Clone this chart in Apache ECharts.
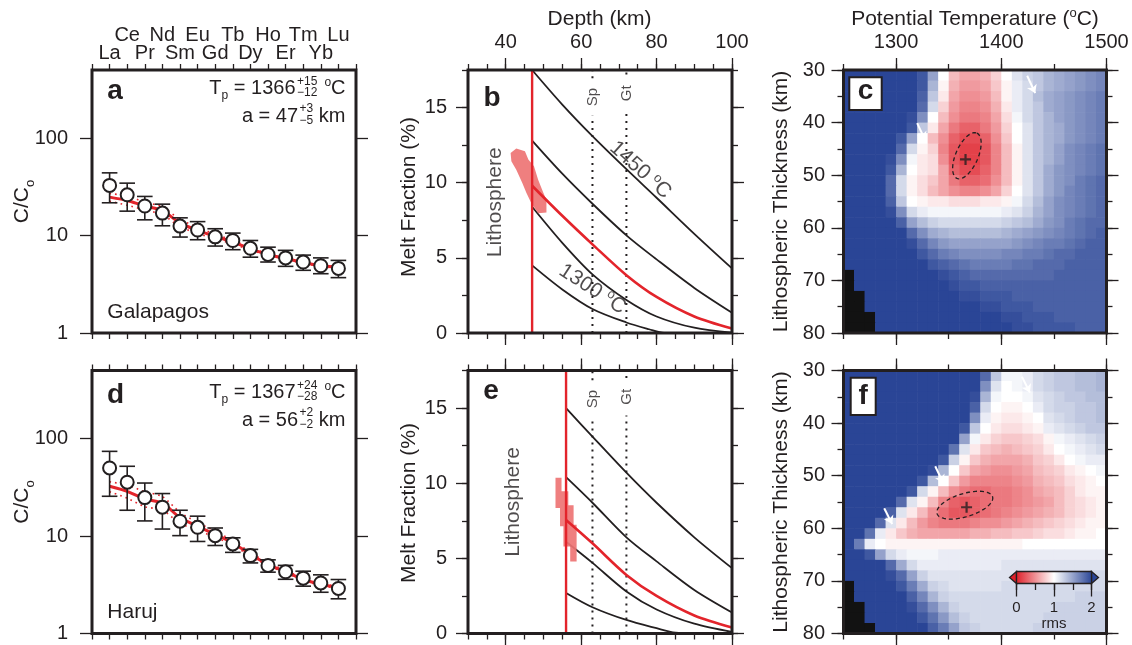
<!DOCTYPE html>
<html>
<head>
<meta charset="utf-8">
<script src="https://cdn.jsdelivr.net/npm/echarts@6/dist/echarts.min.js"></script>
<style>
html,body{margin:0;padding:0;background:#fff;}
#chart{width:1132px;height:645px;}
</style>
</head>
<body>
<div id="chart"></div>
<script>
// ================= DATA =================
const REE = ['La','Ce','Pr','Nd','Sm','Eu','Gd','Tb','Dy','Ho','Er','Tm','Yb','Lu'];

// Panel a: Galapagos (C/Co)
const galObs  = [32.7, 26.2, 20.1, 17.0, 12.5, 11.4, 9.7, 8.9, 7.4, 6.4, 5.9, 5.35, 4.9, 4.6];
const galHigh = [44, 34.5, 25.2, 21.0, 15.2, 13.9, 11.75, 10.6, 8.9, 7.6, 7.05, 6.3, 5.9, 5.56];
const galLow  = [21.7, 17.8, 14.5, 12.6, 9.65, 9.06, 7.8, 7.16, 6.0, 5.35, 4.83, 4.4, 4.06, 3.7];
const galFit  = [24.8, 22.9, 20.1, 18.1, 13.4, 11.3, 9.8, 8.6, 7.3, 6.4, 5.8, 5.3, 4.9, 4.75];
const galFitUp = [27, 25.5, 22, 19.8, 14.6, 12.2, 10.3, 9.0, 7.5, 6.5, 5.9, 5.4, 5.0, 4.85];
const galFitLo = [22.5, 20.5, 18.3, 16.5, 12.3, 10.5, 9.3, 8.2, 7.1, 6.3, 5.7, 5.2, 4.8, 4.65];

// Panel d: Haruj (C/Co)
const harObs  = [50, 35.7, 24.8, 19.8, 14.2, 12.3, 10.1, 8.3, 6.3, 5.0, 4.3, 3.7, 3.3, 2.9];
const harHigh = [74, 52, 35, 27.3, 18.4, 16, 12.1, 9.6, 7.3, 5.7, 5.0, 4.36, 4.0, 3.58];
const harLow  = [25.6, 18.4, 14.3, 11.8, 10.1, 8.8, 8.0, 6.8, 5.3, 4.26, 3.6, 3.06, 2.65, 2.27];
const harFit  = [32.4, 28.8, 24, 21.9, 15.4, 12.6, 10.4, 8.5, 6.5, 5.1, 4.3, 3.6, 3.2, 2.94];
const harFitUp = [36, 33.5, 28.5, 25.5, 17.5, 13.8, 11.2, 9.0, 6.8, 5.3, 4.45, 3.7, 3.3, 3.0];
const harFitLo = [28.5, 24.5, 20, 18.5, 13.5, 11.5, 9.7, 8.1, 6.2, 4.95, 4.2, 3.5, 3.1, 2.9];
const logTicks = [1, 10, 100];

// Panel b: melt fraction (%) vs depth (km)
const meltB1450 = [[47,17.5],[55,15.2],[63,13.1],[72,10.9],[80,9.0],[90,6.6],[100,4.3]];
const meltB2    = [[47,12.8],[55,10.6],[63,8.6],[72,6.5],[80,4.9],[90,3.0],[100,1.35]];
const meltBFit  = [[47,9.8],[55,7.8],[63,5.9],[72,3.85],[80,2.4],[90,1.1],[100,0.3]];
const meltB4    = [[47,8.4],[55,6.0],[63,3.9],[72,2.2],[80,1.1],[90,0.35],[100,0.02]];
const meltB1300 = [[47,4.5],[55,2.9],[63,1.6],[72,0.7],[78,0.25],[82,0],[100,0]];
const lithB = 47;
const blobB = [[41.3,11.98],[42.8,12.27],[45.1,12.09],[46.0,11.54],[47.5,11.09],[48.6,10.2],[50.0,9.31],[50.8,8.86],
               [50.8,8.02],[48.6,7.97],[46.8,8.64],[45.5,9.31],[44.4,9.98],[42.8,10.87],[41.5,11.43]];

// Panel e
const meltE1   = [[56,15.0],[63,13.1],[72,10.7],[80,8.7],[90,6.4],[100,4.35]];
const meltE2   = [[56,10.4],[63,8.7],[72,6.4],[80,4.8],[90,2.9],[100,1.4]];
const meltEFit = [[56,7.55],[63,6.0],[72,3.9],[80,2.5],[90,1.2],[100,0.4]];
const meltE4   = [[56,6.1],[63,4.7],[72,2.8],[80,1.6],[90,0.65],[100,0.1]];
const meltE5   = [[56,2.7],[63,1.75],[72,0.9],[80,0.35],[85,0.05],[90,0],[100,0]];
const lithE = 56;
const blobE = [[53.2,10.36],[54.8,10.36],[54.8,9.47],[56.6,9.47],[56.6,8.53],[58.0,8.53],[58.0,7.24],[58.8,7.24],
               [58.8,4.79],[57.1,4.79],[57.1,5.79],[55.3,5.79],[55.3,7.13],[54.4,7.13],[54.4,8.35],[53.2,8.35]];
const spinelDepth = 63, garnetDepth = 72;

// Panels c, f: rms misfit grids (rows = thickness, cols = potential temperature); -1 = no solution
const tempCenters  = [1255,1265,1275,1285,1295,1305,1315,1325,1335,1345,1355,1365,1375,1385,1395,1405,1415,1425,1435,1445,1455,1465,1475,1485,1495];
const thickCenters = [31,33,35,37,39,41,43,45,47,49,51,53,55,57,59,61,63,65,67,69,71,73,75,77,79];
const rmsGalapagos = [
[2,2,2,2,2,2,2,1.9,1.5,1.0,0.7,0.6,0.6,0.65,0.8,1.0,1.15,1.25,1.3,1.4,1.45,1.5,1.55,1.6,1.65],
[2,2,2,2,2,2,2,1.9,1.4,0.95,0.65,0.55,0.55,0.6,0.75,0.95,1.1,1.2,1.3,1.4,1.45,1.5,1.55,1.6,1.65],
[2,2,2,2,2,2,2,1.85,1.3,0.9,0.6,0.5,0.5,0.55,0.7,0.95,1.1,1.2,1.35,1.45,1.5,1.55,1.6,1.65,1.7],
[2,2,2,2,2,2,2,1.8,1.2,0.8,0.55,0.45,0.45,0.5,0.65,0.9,1.1,1.2,1.3,1.45,1.5,1.55,1.6,1.65,1.7],
[2,2,2,2,2,2,1.95,1.6,1.0,0.7,0.5,0.4,0.4,0.45,0.6,0.85,1.05,1.2,1.3,1.4,1.5,1.55,1.6,1.65,1.7],
[2,2,2,2,2,2,1.9,1.3,0.9,0.6,0.4,0.3,0.3,0.4,0.55,0.8,1.0,1.15,1.3,1.4,1.45,1.55,1.6,1.65,1.7],
[2,2,2,2,2,1.9,1.5,1.0,0.7,0.5,0.3,0.2,0.2,0.3,0.5,0.75,1.0,1.15,1.3,1.4,1.45,1.55,1.6,1.65,1.7],
[2,2,2,2,2,1.8,1.2,0.95,0.8,0.45,0.25,0.15,0.15,0.25,0.45,0.7,0.95,1.15,1.3,1.4,1.5,1.6,1.65,1.7,1.75],
[2,2,2,2,1.95,1.6,1.05,0.9,0.85,0.5,0.25,0.15,0.15,0.25,0.45,0.7,0.95,1.15,1.3,1.4,1.5,1.6,1.65,1.7,1.75],
[2,2,2,2,1.9,1.4,1.0,0.9,0.85,0.6,0.3,0.2,0.2,0.3,0.45,0.7,0.95,1.15,1.3,1.45,1.55,1.6,1.65,1.7,1.75],
[2,2,2,2,1.8,1.2,0.95,0.85,0.75,0.6,0.4,0.3,0.3,0.35,0.5,0.7,0.95,1.15,1.3,1.45,1.55,1.6,1.7,1.75,1.8],
[2,2,2,2,1.8,1.2,0.95,0.85,0.7,0.6,0.5,0.45,0.45,0.5,0.6,0.8,1.0,1.15,1.3,1.45,1.55,1.65,1.7,1.75,1.8],
[2,2,2,2,1.85,1.3,1.0,0.95,0.9,0.9,0.85,0.85,0.85,0.9,0.9,0.95,1.05,1.2,1.35,1.5,1.6,1.65,1.7,1.75,1.8],
[2,2,2,2,1.95,1.6,1.2,1.1,1.05,1.05,1.05,1.05,1.05,1.05,1.05,1.1,1.15,1.25,1.4,1.5,1.6,1.65,1.7,1.75,1.8],
[2,2,2,2,2,1.85,1.5,1.35,1.25,1.2,1.2,1.2,1.2,1.2,1.2,1.25,1.3,1.35,1.45,1.55,1.6,1.7,1.75,1.8,1.8],
[2,2,2,2,2,2,1.8,1.6,1.45,1.4,1.35,1.35,1.35,1.35,1.35,1.4,1.45,1.5,1.55,1.6,1.65,1.7,1.75,1.8,1.85],
[2,2,2,2,2,2,1.95,1.8,1.65,1.55,1.5,1.5,1.5,1.5,1.5,1.5,1.55,1.6,1.65,1.7,1.7,1.75,1.8,1.85,1.85],
[2,2,2,2,2,2,2,1.9,1.8,1.7,1.65,1.6,1.6,1.6,1.6,1.65,1.65,1.7,1.7,1.75,1.8,1.8,1.85,1.85,1.85],
[2,2,2,2,2,2,2,2,1.9,1.85,1.8,1.75,1.7,1.7,1.7,1.7,1.75,1.75,1.8,1.8,1.8,1.85,1.85,1.85,1.85],
[-1,2,2,2,2,2,2,2,2,1.95,1.9,1.85,1.8,1.8,1.8,1.8,1.8,1.8,1.8,1.8,1.85,1.85,1.85,1.85,1.85],
[-1,2,2,2,2,2,2,2,2,2,1.95,1.9,1.9,1.85,1.85,1.85,1.85,1.85,1.85,1.85,1.85,1.85,1.85,1.85,1.85],
[-1,-1,2,2,2,2,2,2,2,2,2,1.95,1.95,1.9,1.9,1.9,1.85,1.85,1.85,1.85,1.85,1.85,1.85,1.85,1.85],
[-1,-1,2,2,2,2,2,2,2,2,2,2,2,1.95,1.95,1.9,1.9,1.9,1.85,1.85,1.85,1.85,1.85,1.85,1.85],
[-1,-1,-1,2,2,2,2,2,2,2,2,2,2,2,2,1.95,1.95,1.9,1.9,1.9,1.85,1.85,1.85,1.85,1.85],
[-1,-1,-1,2,2,2,2,2,2,2,2,2,2,2,2,2,1.95,1.95,1.9,1.9,1.9,1.9,1.85,1.85,1.85]
];
const rmsHaruj = [
[2,2,2,2,2,2,2,2,2,2,2,2,2,1.8,1.3,1.05,1.05,1.1,1.2,1.25,1.3,1.3,1.35,1.35,1.4],
[2,2,2,2,2,2,2,2,2,2,2,2,2,1.6,1.15,1.0,1.05,1.1,1.2,1.25,1.3,1.3,1.35,1.35,1.4],
[2,2,2,2,2,2,2,2,2,2,2,2,1.95,1.4,1.05,1.0,1.0,1.05,1.15,1.2,1.25,1.3,1.3,1.35,1.35],
[2,2,2,2,2,2,2,2,2,2,2,2,1.85,1.2,1.0,0.95,0.95,1.0,1.1,1.2,1.25,1.25,1.3,1.3,1.35],
[2,2,2,2,2,2,2,2,2,2,2,2,1.6,1.1,0.95,0.9,0.9,0.95,1.0,1.15,1.2,1.25,1.3,1.3,1.35],
[2,2,2,2,2,2,2,2,2,2,2,1.9,1.3,1.0,0.9,0.85,0.85,0.9,0.95,1.1,1.15,1.2,1.25,1.3,1.3],
[2,2,2,2,2,2,2,2,2,2,2,1.5,1.05,0.9,0.8,0.75,0.75,0.8,0.85,0.95,1.05,1.1,1.15,1.2,1.25],
[2,2,2,2,2,2,2,2,2,2,1.75,1.15,0.9,0.75,0.7,0.65,0.7,0.75,0.8,0.9,1.0,1.05,1.1,1.15,1.2],
[2,2,2,2,2,2,2,2,2,1.9,1.25,0.95,0.75,0.65,0.6,0.6,0.6,0.65,0.75,0.8,0.9,1.0,1.05,1.1,1.1],
[2,2,2,2,2,2,2,2,1.95,1.4,1.0,0.75,0.6,0.55,0.5,0.5,0.55,0.6,0.7,0.75,0.8,0.9,0.95,1.0,1.05],
[2,2,2,2,2,2,2,1.9,1.35,1.0,0.75,0.55,0.45,0.45,0.45,0.45,0.5,0.55,0.65,0.7,0.75,0.85,0.9,0.95,1.0],
[2,2,2,2,2,2,1.9,1.2,0.95,0.7,0.5,0.4,0.35,0.35,0.4,0.4,0.45,0.5,0.6,0.65,0.7,0.8,0.9,0.95,0.95],
[2,2,2,2,2,1.8,1.15,0.95,0.7,0.45,0.3,0.25,0.3,0.35,0.4,0.4,0.45,0.5,0.55,0.6,0.7,0.8,0.85,0.9,0.95],
[2,2,2,2,1.85,1.15,0.9,0.7,0.5,0.35,0.25,0.25,0.3,0.35,0.4,0.45,0.5,0.55,0.6,0.65,0.7,0.8,0.85,0.9,0.95],
[2,2,2,1.8,1.15,0.9,0.7,0.55,0.45,0.4,0.4,0.4,0.45,0.5,0.5,0.55,0.6,0.65,0.7,0.75,0.8,0.85,0.9,0.95,0.95],
[2,2,1.75,1.1,0.9,0.75,0.65,0.6,0.6,0.6,0.6,0.6,0.65,0.65,0.7,0.7,0.75,0.75,0.8,0.85,0.85,0.9,0.95,0.95,1.0],
[2,1.7,1.1,1.0,0.95,0.95,0.95,0.95,0.95,0.95,0.95,0.95,0.95,0.95,0.95,0.95,0.95,1.0,1.0,1.0,1.0,1.0,1.0,1.0,1.0],
[2,2,1.9,1.5,1.2,1.1,1.05,1.05,1.05,1.1,1.1,1.1,1.1,1.1,1.1,1.1,1.1,1.1,1.1,1.1,1.1,1.1,1.1,1.1,1.1],
[2,2,2,2,1.8,1.45,1.2,1.1,1.1,1.1,1.1,1.1,1.1,1.1,1.1,1.15,1.15,1.15,1.15,1.15,1.15,1.15,1.15,1.15,1.15],
[2,2,2,2,1.95,1.8,1.5,1.25,1.15,1.15,1.15,1.15,1.15,1.15,1.15,1.15,1.15,1.15,1.2,1.2,1.2,1.2,1.2,1.2,1.2],
[-1,2,2,2,2,1.9,1.7,1.45,1.25,1.2,1.15,1.15,1.15,1.15,1.15,1.2,1.2,1.2,1.2,1.2,1.2,1.2,1.2,1.2,1.2],
[-1,2,2,2,2,2,1.85,1.65,1.4,1.25,1.2,1.2,1.2,1.2,1.2,1.2,1.2,1.2,1.2,1.2,1.2,1.2,1.25,1.25,1.25],
[-1,-1,2,2,2,2,1.95,1.8,1.6,1.4,1.25,1.2,1.2,1.2,1.2,1.2,1.2,1.2,1.2,1.2,1.25,1.25,1.25,1.25,1.25],
[-1,-1,2,2,2,2,2,1.9,1.75,1.55,1.35,1.25,1.2,1.2,1.2,1.2,1.2,1.2,1.2,1.25,1.25,1.25,1.25,1.25,1.25],
[-1,-1,-1,2,2,2,2,2,1.85,1.7,1.5,1.3,1.25,1.2,1.2,1.2,1.2,1.2,1.25,1.25,1.25,1.25,1.25,1.25,1.25]
];
const bestC = [1366, 47], bestF = [1367, 56];
const ellipseC = {center: [1367.3, 46.3], tip: [1376.8, 42.0], ratio: 0.45};
const ellipseF = {center: [1365.3, 55.6], tip: [1391.7, 54.0], ratio: 0.4};
const arrowsC = [[[1320, 40.1], [1327.6, 43.3]], [[1424.6, 31.1], [1432.2, 34.4]]];
const arrowsF = [[[1419.6, 31.2], [1427.2, 34.2]], [[1337.2, 48.2], [1344.8, 51.4]], [[1288.7, 56.2], [1296.3, 59.2]]];
const rmsTicksMajor = [0, 1, 2], rmsTicksMinor = 0.5;

// ================= STYLE =================
const FONT = '"Liberation Sans", Arial, Helvetica, sans-serif';
const INK = '#231f20';
const RED = '#e3242b';
const RMS_RED = '#de1f29';
const RMS_BLUE = '#2a4596';
const BLOB = '#ee7474';
const plainNum = v => String(v);

const GR = [
  {left: 92,    top: 70,    width: 264, height: 263},
  {left: 468,   top: 70,    width: 264, height: 263},
  {left: 843.5, top: 70,    width: 263, height: 263},
  {left: 92,    top: 370.5, width: 264, height: 263},
  {left: 468,   top: 370.5, width: 264, height: 263},
  {left: 843.5, top: 370.5, width: 263, height: 263},
  {left: 1016.5, top: 571.5, width: 75, height: 12}
];

const tickStyle = {color: INK, width: 1.3};
const labelStyle = {color: INK, fontFamily: FONT, fontSize: 20};
const xAxes = [], yAxes = [];

function sideAxes(list, gi, side, s, withLabels) {
  const idx = list.length;
  const common = {gridIndex: gi, position: side, type: s.type || 'value', min: s.min, max: s.max,
    inverse: !!s.inverse, axisLine: {show: false, onZero: false}, splitLine: {show: false}, z: 5};
  if (s.type === 'log') common.logBase = 10;
  const a1 = Object.assign({}, common, {
    axisTick: {show: true, inside: false, length: s.minorLen || 6, lineStyle: tickStyle},
    axisLabel: (withLabels && s.labelOnMinor) ? Object.assign({show: true, formatter: plainNum}, labelStyle, s.labelOpts) : {show: false}
  });
  if (s.minor != null) a1.interval = s.minor;
  if (s.minorValues) { a1.axisTick.customValues = s.minorValues; if (a1.axisLabel.show) a1.axisLabel.customValues = s.minorValues; }
  list.push(a1);
  if (s.majors) {
    list.push(Object.assign({}, common, {
      axisTick: {show: true, inside: false, length: 12, customValues: s.majors, lineStyle: tickStyle},
      axisLabel: (withLabels && !s.labelOnMinor) ? Object.assign({show: true, customValues: s.majors, formatter: plainNum}, labelStyle, s.labelOpts) : {show: false}
    }));
  }
  return idx;
}
const P = {};
function panelAxes(key, gi, X, Y, topLabels) {
  const xi = sideAxes(xAxes, gi, 'top', X, topLabels);
  sideAxes(xAxes, gi, 'bottom', X, false);
  const yi = sideAxes(yAxes, gi, 'left', Y, true);
  sideAxes(yAxes, gi, 'right', Y, false);
  P[key] = {x: xi, y: yi};
}

const reeXTop = {min: 0, max: 15, minor: 1, labelOnMinor: true, labelOpts: {margin: 8, lineHeight: 18,
  formatter: function (v) { const i = Math.round(v); if (i < 1 || i > REE.length) return ''; return i % 2 === 1 ? '\n' + REE[i - 1] : REE[i - 1] + '\n'; }}};
const reeX = {min: 0, max: 15, minor: 1};
const reeY = {type: 'log', min: 1, max: 500, minorLen: 12, minorValues: logTicks, labelOnMinor: true, labelOpts: {margin: 24}};
const depX = {min: 30, max: 100, minor: 5, majors: [40, 60, 80, 100], labelOpts: {margin: 17.5}};
const meltY = {min: 0, max: 17.5, minor: 2.5, majors: [0, 5, 10, 15], labelOpts: {margin: 21}};
const tempX = {min: 1250, max: 1500, minor: 50, majors: [1300, 1400, 1500], labelOpts: {margin: 17.5}};
const thickY = {min: 30, max: 80, minor: 5, majors: [30, 40, 50, 60, 70, 80], inverse: true, labelOpts: {margin: 18.5}};

panelAxes('a', 0, reeXTop, reeY, true);
panelAxes('b', 1, depX, meltY, true);
panelAxes('c', 2, tempX, thickY, true);
panelAxes('d', 3, reeX, reeY, false);
panelAxes('e', 4, depX, meltY, false);
panelAxes('f', 5, tempX, thickY, false);

// colorbar axes (grid 6)
const cbXi = xAxes.length;
xAxes.push({gridIndex: 6, position: 'bottom', type: 'value', min: 0, max: 2, interval: rmsTicksMinor, z: 60,
  axisLine: {show: false, onZero: false}, splitLine: {show: false}, axisLabel: {show: false},
  axisTick: {show: true, length: 6.5, lineStyle: tickStyle}});
xAxes.push({gridIndex: 6, position: 'bottom', type: 'value', min: 0, max: 2, z: 60,
  axisLine: {show: false, onZero: false}, splitLine: {show: false},
  axisTick: {show: true, length: 13, customValues: rmsTicksMajor, lineStyle: tickStyle},
  axisLabel: {show: true, customValues: rmsTicksMajor, formatter: plainNum, color: INK, fontFamily: FONT, fontSize: 15, margin: 17},
  name: 'rms', nameLocation: 'middle', nameGap: 30.5, nameTextStyle: {color: INK, fontFamily: FONT, fontSize: 15}});
const cbYi = yAxes.length;
yAxes.push({gridIndex: 6, type: 'value', min: 0, max: 1, show: false});

// ================= SERIES =================
const series = [];
function add(s) { s.silent = true; series.push(s); return series.length - 1; }

function errRender(params, api) {
  const x = api.value(0);
  const p1 = api.coord([x, api.value(1)]), p2 = api.coord([x, api.value(2)]);
  const w = 7.8, st = {stroke: INK, lineWidth: 1.6};
  return {type: 'group', children: [
    {type: 'line', shape: {x1: p1[0], y1: p1[1], x2: p2[0], y2: p2[1]}, style: st},
    {type: 'line', shape: {x1: p1[0] - w, y1: p1[1], x2: p1[0] + w, y2: p1[1]}, style: st},
    {type: 'line', shape: {x1: p2[0] - w, y1: p2[1], x2: p2[0] + w, y2: p2[1]}, style: st}
  ]};
}
function reePanel(key, obs, lo, hi, fit, fitUp, fitLo) {
  const xi = P[key].x, yi = P[key].y;
  const pos = REE.map((_, i) => i + 1);
  [fitUp, fitLo].forEach(arr => add({type: 'line', xAxisIndex: xi, yAxisIndex: yi, data: pos.map((x, i) => [x, arr[i]]),
    symbol: 'none', smooth: 0.2, lineStyle: {color: RED, width: 1.6, type: [1.6, 4]}, z: 3}));
  add({type: 'line', xAxisIndex: xi, yAxisIndex: yi, data: pos.map((x, i) => [x, fit[i]]),
    symbol: 'none', smooth: 0.2, lineStyle: {color: RED, width: 3}, z: 4});
  add({type: 'custom', xAxisIndex: xi, yAxisIndex: yi, data: pos.map((x, i) => [x, lo[i], hi[i]]),
    encode: {x: 0, y: [1, 2]}, renderItem: errRender, z: 5});
  add({type: 'scatter', xAxisIndex: xi, yAxisIndex: yi, data: pos.map((x, i) => [x, obs[i]]),
    symbol: 'circle', symbolSize: 13, itemStyle: {color: '#fff', borderColor: INK, borderWidth: 2, opacity: 1}, z: 6});
}
reePanel('a', galObs, galLow, galHigh, galFit, galFitUp, galFitLo);
reePanel('d', harObs, harLow, harHigh, harFit, harFitUp, harFitLo);

function labelSeries(xi, yi, items) {
  add({type: 'scatter', xAxisIndex: xi, yAxisIndex: yi, symbolSize: 0.1, itemStyle: {color: 'rgba(0,0,0,0)'},
    data: items.map(it => ({value: it.at, label: {show: true, position: 'inside', rotate: it.rot,
      formatter: it.text, color: INK, fontFamily: FONT, fontSize: it.size, rich: it.rich}})), z: 9});
}
const degRich = {n: {fontSize: 21, lineHeight: 24, fontFamily: FONT, color: INK},
                 s: {fontSize: 13, lineHeight: 24, verticalAlign: 'top', fontFamily: FONT, color: INK}};

function meltPanel(key, blacks, fit, lith, blob, spLab, gtLab, extraLabels) {
  const xi = P[key].x, yi = P[key].y, top = 17.5, gap = 1.25;
  blacks.forEach(c => add({type: 'line', xAxisIndex: xi, yAxisIndex: yi, data: c, symbol: 'none', smooth: 0.3,
    lineStyle: {color: INK, width: 1.8}, z: 3}));
  [[spinelDepth, spLab], [garnetDepth, gtLab]].forEach(([d, lab]) => add({type: 'line', xAxisIndex: xi, yAxisIndex: yi,
    data: [[d, 0], [d, lab - gap], [d, '-'], [d, lab + gap], [d, top]], connectNulls: false, symbol: 'none',
    lineStyle: {color: INK, width: 2, type: [2, 5]}, z: 3}));
  add({type: 'custom', xAxisIndex: xi, yAxisIndex: yi, data: [blob[0]], z: 4,
    renderItem: function (params, api) {
      return {type: 'polygon', shape: {points: blob.map(p => api.coord(p))}, style: {fill: BLOB, opacity: 0.92}};
    }});
  add({type: 'line', xAxisIndex: xi, yAxisIndex: yi, data: fit, symbol: 'none', smooth: 0.3,
    lineStyle: {color: RED, width: 2.6}, z: 5});
  add({type: 'line', xAxisIndex: xi, yAxisIndex: yi, data: [[lith, 0], [lith, top]], symbol: 'none',
    lineStyle: {color: RED, width: 2.4}, z: 5});
  labelSeries(xi, yi, [
    {at: [spinelDepth, spLab], text: 'Sp', rot: 90, size: 15},
    {at: [garnetDepth, gtLab], text: 'Gt', rot: 90, size: 15}
  ].concat(extraLabels));
}
meltPanel('b', [meltB1450, meltB2, meltB4, meltB1300], meltBFit, lithB, blobB, 15.7, 15.95, [
  {at: [75.7, 10.84], text: '{n|1450 }{s|o}{n|C}', rot: -42, size: 21, rich: degRich},
  {at: [63.0, 2.91], text: '{n|1300 }{s|o}{n|C}', rot: -33, size: 21, rich: degRich},
  {at: [37.3, 8.7], text: 'Lithosphere', rot: 90, size: 21}
]);
meltPanel('e', [meltE1, meltE2, meltE4, meltE5], meltEFit, lithE, blobE, 15.6, 15.75, [
  {at: [42.0, 8.75], text: 'Lithosphere', rot: 90, size: 21}
]);

const dT = tempCenters[1] - tempCenters[0], dH = thickCenters[1] - thickCenters[0];
function heatRender(params, api) {
  const T = api.value(0), h = api.value(1), v = api.value(2);
  const p0 = api.coord([T - dT / 2, h - dH / 2]), p1 = api.coord([T + dT / 2, h + dH / 2]);
  return {type: 'rect', shape: {x: Math.min(p0[0], p1[0]), y: Math.min(p0[1], p1[1]),
    width: Math.abs(p1[0] - p0[0]) + 0.6, height: Math.abs(p1[1] - p0[1]) + 0.6},
    style: {fill: v < 0 ? '#121212' : api.visual('color')}};
}
function ellipseRender(e) {
  return function (params, api) {
    const c = api.coord(e.center), t = api.coord(e.tip);
    const ax = t[0] - c[0], ay = t[1] - c[1], bx = -ay * e.ratio, by = ax * e.ratio;
    const pts = [];
    for (let k = 0; k < 72; k++) {
      const a = k / 72 * 2 * Math.PI;
      pts.push([c[0] + ax * Math.cos(a) + bx * Math.sin(a), c[1] + ay * Math.cos(a) + by * Math.sin(a)]);
    }
    return {type: 'polygon', shape: {points: pts}, style: {fill: 'none', stroke: INK, lineWidth: 1.3, lineDash: [4, 3]}};
  };
}
const heatIdx = [];
function rmsPanel(key, grid, ell, best, arrows) {
  const xi = P[key].x, yi = P[key].y, data = [];
  grid.forEach((row, r) => row.forEach((v, c) => data.push([tempCenters[c], thickCenters[r], v])));
  heatIdx.push(add({type: 'custom', xAxisIndex: xi, yAxisIndex: yi, data: data, renderItem: heatRender, z: 2}));
  add({type: 'custom', xAxisIndex: xi, yAxisIndex: yi, data: [ell.center], renderItem: ellipseRender(ell), z: 7});
  add({type: 'scatter', xAxisIndex: xi, yAxisIndex: yi, data: [best], symbol: 'path://M4,0H6V4H10V6H6V10H4V6H0V4H4Z',
    symbolSize: 11, itemStyle: {color: INK}, z: 8});
  add({type: 'lines', coordinateSystem: 'cartesian2d', xAxisIndex: xi, yAxisIndex: yi,
    data: arrows.map(a => ({coords: a})), symbol: ['none', 'arrow'], symbolSize: 8,
    lineStyle: {color: '#fff', width: 2, opacity: 1, curveness: 0}, z: 8});
}
rmsPanel('c', rmsGalapagos, ellipseC, bestC, arrowsC);
rmsPanel('f', rmsHaruj, ellipseF, bestF, arrowsF);

// colorbar
add({type: 'custom', xAxisIndex: cbXi, yAxisIndex: cbYi, data: [[0, 0]], z: 9, renderItem: function (params, api) {
  const p0 = api.coord([0, 0]), p1 = api.coord([2, 1]);
  const x0 = p0[0], x1 = p1[0], yt = p1[1], yb = p0[1], ym = (yt + yb) / 2, tri = 7;
  return {type: 'group', children: [
    {type: 'polygon', shape: {points: [[x0, yt], [x0 - tri, ym], [x0, yb]]}, style: {fill: RMS_RED, stroke: INK, lineWidth: 1.3}},
    {type: 'polygon', shape: {points: [[x1, yt], [x1 + tri, ym], [x1, yb]]}, style: {fill: RMS_BLUE, stroke: INK, lineWidth: 1.3}},
    {type: 'rect', shape: {x: x0, y: yt, width: x1 - x0, height: yb - yt}, style: {
      fill: new echarts.graphic.LinearGradient(0, 0, 1, 0, [{offset: 0, color: RMS_RED}, {offset: 0.5, color: '#ffffff'}, {offset: 1, color: RMS_BLUE}]),
      stroke: INK, lineWidth: 1.3}}
  ]};
}});

// ================= GRAPHIC TEXT =================
const G = [];
function T(x, y, text, size, o) {
  o = o || {};
  const el = {type: 'text', x: x, y: y, z: 110, silent: true, rotation: o.rot || 0,
    style: {text: text, fontSize: size, fontFamily: FONT, fontWeight: o.bold ? 'bold' : 'normal', fill: INK,
      align: o.align || 'center', verticalAlign: 'middle', textAlign: o.align || 'center', textVerticalAlign: 'middle'}};
  if (o.rich) el.style.rich = o.rich;
  G.push(el);
  return el;
}
function TB(x, base, text, size, o) { return T(x, base - 0.35 * size, text, size, o); }
const mctx = document.createElement('canvas').getContext('2d');
function tw(t, s) { mctx.font = s + 'px ' + FONT; return mctx.measureText(t).width; }
function annotLine(xRight, base, parts) {
  const widths = parts.map(p => p.gap != null ? p.gap : (p.st ? Math.max(tw(p.st[0], p.s), tw(p.st[1], p.s)) : tw(p.t, p.s)));
  let x = xRight - widths.reduce((a, b) => a + b, 0);
  parts.forEach((p, i) => {
    if (p.st) {
      TB(x, base + p.d[0], p.st[0], p.s, {align: 'left'});
      TB(x, base + p.d[1], p.st[1], p.s, {align: 'left'});
    } else if (p.t) {
      TB(x, base + (p.dy || 0), p.t, p.s, {align: 'left'});
    }
    x += widths[i];
  });
}
// frames
GR.slice(0, 6).forEach(g => G.push({type: 'rect', z: 100, silent: true,
  shape: {x: g.left, y: g.top, width: g.width, height: g.height}, style: {fill: 'none', stroke: INK, lineWidth: 3}}));

// panel letters
T(115, 91, 'a', 28, {bold: true});
T(492, 97.8, 'b', 28, {bold: true});
T(115.5, 395.5, 'd', 28, {bold: true});
T(491, 391.7, 'e', 28, {bold: true});
G.push({type: 'rect', z: 105, silent: true, shape: {x: 849.3, y: 77.3, width: 32.4, height: 32.7}, style: {fill: '#fff', stroke: INK, lineWidth: 2}});
T(865.5, 91.3, 'c', 28, {bold: true});
G.push({type: 'rect', z: 105, silent: true, shape: {x: 850.7, y: 377.7, width: 25, height: 37.3}, style: {fill: '#fff', stroke: INK, lineWidth: 2}});
T(863.2, 396.3, 'f', 28, {bold: true});

// axis titles
const supRich = {n: {fontSize: 21, lineHeight: 25, fontFamily: FONT, fill: INK}, s: {fontSize: 13, lineHeight: 25, verticalAlign: 'top', fontFamily: FONT, fill: INK}};
const subRich = {n: {fontSize: 21, lineHeight: 29, fontFamily: FONT, fill: INK}, s: {fontSize: 13, lineHeight: 29, verticalAlign: 'bottom', fontFamily: FONT, fill: INK}};
T(599.5, 19, 'Depth (km)', 21);
T(975, 19, '{n|Potential Temperature (}{s|o}{n|C)}', 21, {rich: supRich});
T(22, 201.5, '{n|C/C}{s|o}', 21, {rot: Math.PI / 2, rich: subRich});
T(22, 502, '{n|C/C}{s|o}', 21, {rot: Math.PI / 2, rich: subRich});
T(409, 197, 'Melt Fraction (%)', 21, {rot: Math.PI / 2});
T(409.5, 503, 'Melt Fraction (%)', 21, {rot: Math.PI / 2});
T(781.5, 201.5, 'Lithospheric Thickness (km)', 21, {rot: Math.PI / 2});
T(781.5, 502, 'Lithospheric Thickness (km)', 21, {rot: Math.PI / 2});

// annotations a, d
annotLine(345.5, 95.5, [{t: 'T', s: 20}, {t: 'p', s: 12, dy: 4}, {t: ' = 1366', s: 20}, {gap: 1.5},
  {st: ['+15', '\u221212'], s: 12, d: [-10, 1]}, {gap: 7}, {t: 'o', s: 12, dy: -8.5}, {t: 'C', s: 20}]);
annotLine(345.5, 123, [{t: 'a = 47', s: 20}, {gap: 1.5}, {st: ['+3', '\u22125'], s: 12, d: [-10, 2]}, {t: ' km', s: 20}]);
annotLine(345.5, 399.5, [{t: 'T', s: 20}, {t: 'p', s: 12, dy: 4}, {t: ' = 1367', s: 20}, {gap: 1.5},
  {st: ['+24', '\u221228'], s: 12, d: [-10, 1]}, {gap: 7}, {t: 'o', s: 12, dy: -8.5}, {t: 'C', s: 20}]);
annotLine(345.5, 427, [{t: 'a = 56', s: 20}, {gap: 1.5}, {st: ['+2', '\u22122'], s: 12, d: [-10, 2]}, {t: ' km', s: 20}]);
TB(107.3, 319.3, 'Galapagos', 21, {align: 'left'});
TB(107.3, 620, 'Haruj', 21, {align: 'left'});

// ================= OPTION =================
const chart = echarts.init(document.getElementById('chart'), null, {renderer: 'canvas', width: 1132, height: 645});
chart.setOption({
  animation: false,
  backgroundColor: '#ffffff',
  textStyle: {fontFamily: FONT, color: INK},
  grid: GR.map(g => ({left: g.left, top: g.top, width: g.width, height: g.height, show: false, containLabel: false, outerBoundsMode: 'none'})),
  xAxis: xAxes,
  yAxis: yAxes,
  visualMap: [{type: 'continuous', show: false, min: 0, max: 2, dimension: 2, seriesIndex: heatIdx,
    inRange: {color: [RMS_RED, '#ffffff', RMS_BLUE]}, outOfRange: {color: '#121212'}}],
  series: series,
  graphic: {elements: G}
});
</script>
</body>
</html>
